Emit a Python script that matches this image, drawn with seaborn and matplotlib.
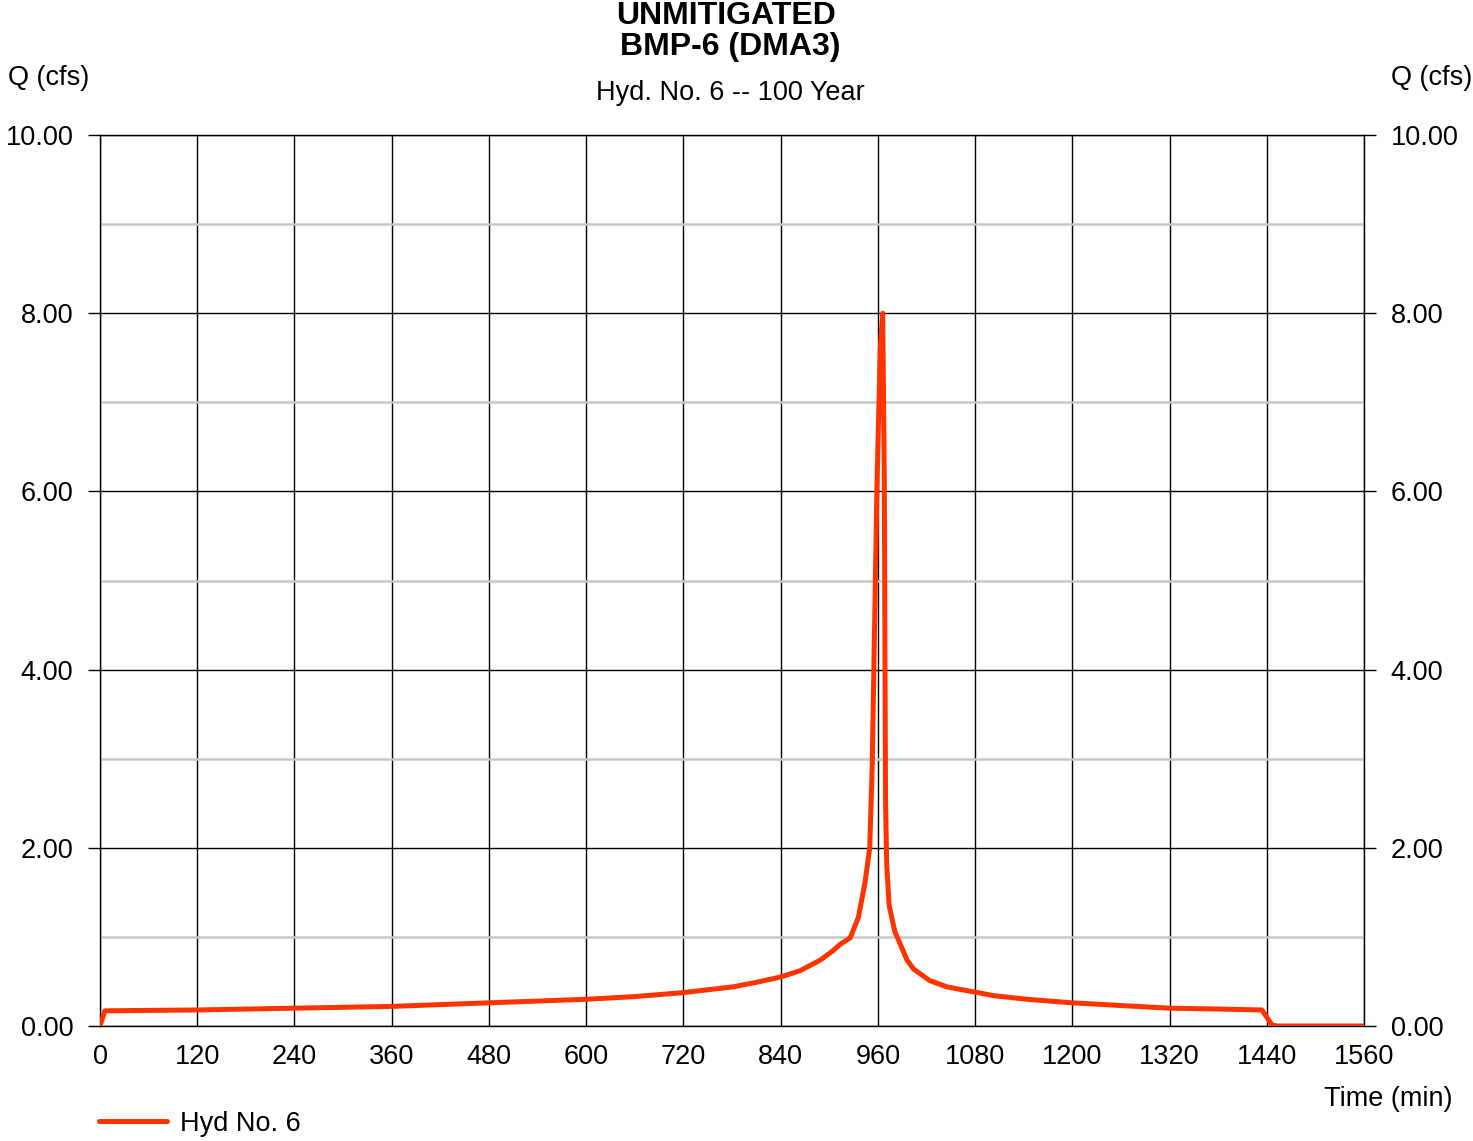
import matplotlib
matplotlib.use("Agg")
import matplotlib.pyplot as plt
import seaborn as sns
import pandas as pd
from matplotlib.ticker import MultipleLocator

time_min = [0, 6, 60, 120, 180, 240, 300, 360, 420, 480, 540, 600, 660, 720, 782,
            810, 840, 864, 889, 904, 914, 926, 936, 944, 950, 953, 956, 959, 963, 966,
            968, 969.5, 971, 974, 981, 996, 1004, 1024, 1045, 1062, 1080, 1103,
            1144, 1200, 1259, 1320, 1382, 1434, 1440, 1446, 1452, 1500, 1560]
flow_cfs = [0.0, 0.17, 0.175, 0.18, 0.19, 0.20, 0.21, 0.22, 0.24, 0.26, 0.28, 0.30,
            0.33, 0.375, 0.44, 0.49, 0.55, 0.62, 0.74, 0.84, 0.92, 0.99, 1.22, 1.60,
            2.0, 2.9, 4.5, 6.1, 7.6, 8.0, 6.1, 2.5, 1.8, 1.35, 1.06, 0.74, 0.64, 0.51,
            0.44, 0.41, 0.38, 0.34, 0.30, 0.26, 0.23, 0.20, 0.19, 0.18, 0.10,
            0.015, 0.0, 0.0, 0.0]
x_ticks = list(range(0, 1561, 120))
y_ticks = [0, 2, 4, 6, 8, 10]

df = pd.DataFrame({"Time (min)": time_min, "Q (cfs)": flow_cfs})

sns.set_style("white")
plt.rcParams["font.family"] = ["Liberation Sans", "DejaVu Sans"]
plt.rcParams["text.color"] = "black"
plt.rcParams["xtick.color"] = "black"
plt.rcParams["ytick.color"] = "black"
plt.rcParams["xtick.labelcolor"] = "black"
plt.rcParams["ytick.labelcolor"] = "black"

fig = plt.figure(figsize=(14.73, 11.41), dpi=100)
ax = fig.add_axes([100 / 1473, 1 - 1026 / 1141, 1264 / 1473, 891 / 1141])

color = "#FF3300"
sns.lineplot(data=df, x="Time (min)", y="Q (cfs)", ax=ax, color=color,
             linewidth=3.6, label="Hyd No. 6", zorder=5, solid_capstyle="round")

ax.set_xlim(0, 1560)
ax.set_ylim(0, 10)
ax.set_xticks(x_ticks)
ax.set_yticks(y_ticks)
ax.yaxis.set_minor_locator(MultipleLocator(1))
ax.set_yticklabels([f"{v:.2f}" for v in y_ticks])
ax.set_xticklabels([str(v) for v in x_ticks])

ax.grid(which="major", axis="both", color="black", linewidth=1.0)
ax.grid(which="minor", axis="y", color="#C8C8C8", linewidth=1.8)
ax.set_axisbelow(True)

for s in ax.spines.values():
    s.set_color("black")
    s.set_linewidth(1.0)

ax.tick_params(axis="y", which="major", direction="out", length=8.6, width=1.0,
               labelsize=19.5, pad=10.5, left=True, right=True,
               labelleft=True, labelright=True)
ax.tick_params(axis="y", which="minor", length=0)
ax.tick_params(axis="x", which="major", length=0, labelsize=19.5, pad=13)

ax.set_xlabel("")
ax.set_ylabel("")

leg = ax.legend(loc="upper left", bbox_to_anchor=(-0.02, -0.068), frameon=False,
                fontsize=19.5, handlelength=2.5, handletextpad=0.5)

fig.text(0.493, 0.999, "UNMITIGATED", ha="center", va="top", fontsize=23,
         fontweight="bold")
fig.text(0.496, 0.972, "BMP-6 (DMA3)", ha="center", va="top", fontsize=23,
         fontweight="bold")
fig.text(0.496, 0.930, "Hyd. No. 6 -- 100 Year", ha="center", va="top", fontsize=19.5)
fig.text(8 / 1473, 0.943, "Q (cfs)", ha="left", va="top", fontsize=19.5)
fig.text(0.9995, 0.943, "Q (cfs)", ha="right", va="top", fontsize=19.5)
fig.text(1452 / 1473, 1 - 1086 / 1141, "Time (min)", ha="right", va="top", fontsize=19.5)

fig.savefig("out.png", dpi=100)
